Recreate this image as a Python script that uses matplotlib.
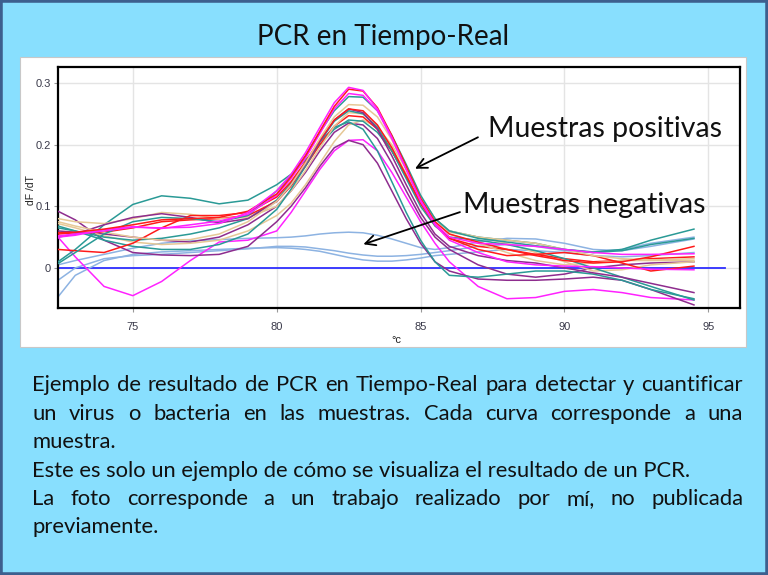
import numpy as np
import matplotlib
matplotlib.use('Agg')
import matplotlib.pyplot as plt
from matplotlib.patches import Rectangle

# temperature grid shared by all melt curves
temps = [72.4, 73, 74, 75, 76, 77, 78, 79, 80, 80.5, 81, 81.5, 82, 82.5, 83, 83.5,
         84, 84.5, 85, 85.5, 86, 87, 88, 89, 90, 91, 92, 93, 94.5]

# positive samples (dF/dT)
pos_magenta1 = [0.052, 0.055, 0.060, 0.066, 0.065, 0.066, 0.072, 0.090, 0.125, 0.152, 0.187, 0.228, 0.268, 0.293, 0.288, 0.258, 0.212, 0.160, 0.110, 0.072, 0.050, 0.040, 0.038, 0.035, 0.030, 0.025, 0.022, 0.022, 0.023]
pos_red1 = [0.057, 0.058, 0.063, 0.070, 0.078, 0.080, 0.082, 0.092, 0.120, 0.148, 0.182, 0.222, 0.262, 0.290, 0.287, 0.260, 0.215, 0.165, 0.113, 0.075, 0.055, 0.042, 0.030, 0.020, 0.012, 0.008, 0.010, 0.018, 0.035]
pos_magenta2 = [0.050, 0.053, 0.062, 0.067, 0.064, 0.070, 0.076, 0.087, 0.118, 0.145, 0.178, 0.218, 0.258, 0.283, 0.280, 0.255, 0.210, 0.160, 0.108, 0.070, 0.045, 0.025, 0.010, 0.005, 0.003, 0.002, 0.000, -0.002, -0.003]
pos_teal1 = [0.007, 0.025, 0.055, 0.075, 0.082, 0.080, 0.075, 0.085, 0.125, 0.150, 0.182, 0.220, 0.255, 0.278, 0.277, 0.255, 0.215, 0.168, 0.118, 0.080, 0.060, 0.048, 0.042, 0.036, 0.030, 0.026, 0.030, 0.045, 0.063]
pos_tan1 = [0.075, 0.068, 0.058, 0.050, 0.045, 0.046, 0.055, 0.075, 0.108, 0.135, 0.170, 0.210, 0.245, 0.265, 0.264, 0.245, 0.208, 0.162, 0.115, 0.080, 0.060, 0.050, 0.045, 0.040, 0.030, 0.020, 0.015, 0.013, 0.015]
pos_red2 = [0.030, 0.028, 0.025, 0.040, 0.065, 0.085, 0.085, 0.090, 0.115, 0.140, 0.172, 0.208, 0.240, 0.258, 0.255, 0.232, 0.195, 0.150, 0.105, 0.070, 0.048, 0.030, 0.020, 0.022, 0.025, 0.020, 0.008, -0.005, 0.003]
pos_purple1 = [0.050, 0.055, 0.070, 0.082, 0.088, 0.082, 0.073, 0.080, 0.108, 0.135, 0.168, 0.205, 0.240, 0.258, 0.252, 0.225, 0.182, 0.135, 0.090, 0.055, 0.035, 0.020, 0.012, 0.008, 0.000, -0.008, -0.015, -0.025, -0.040]
pos_teal2 = [0.068, 0.060, 0.045, 0.035, 0.030, 0.030, 0.038, 0.055, 0.095, 0.128, 0.165, 0.205, 0.238, 0.255, 0.250, 0.228, 0.190, 0.145, 0.100, 0.068, 0.050, 0.045, 0.038, 0.028, 0.015, 0.000, -0.015, -0.030, -0.052]
pos_tan2 = [0.080, 0.075, 0.072, 0.080, 0.090, 0.087, 0.080, 0.082, 0.100, 0.125, 0.158, 0.195, 0.230, 0.252, 0.250, 0.230, 0.195, 0.153, 0.110, 0.075, 0.055, 0.040, 0.025, 0.012, 0.005, 0.008, 0.012, 0.012, 0.012]
pos_red3 = [0.055, 0.057, 0.058, 0.065, 0.075, 0.078, 0.080, 0.085, 0.108, 0.133, 0.165, 0.200, 0.230, 0.247, 0.245, 0.225, 0.190, 0.148, 0.105, 0.070, 0.048, 0.035, 0.030, 0.022, 0.015, 0.010, 0.012, 0.015, 0.018]
pos_teal3 = [0.010, 0.030, 0.070, 0.103, 0.117, 0.113, 0.104, 0.110, 0.135, 0.152, 0.175, 0.200, 0.225, 0.240, 0.238, 0.220, 0.190, 0.150, 0.110, 0.080, 0.060, 0.050, 0.045, 0.040, 0.030, 0.025, 0.028, 0.038, 0.048]
pos_teal4 = [0.065, 0.060, 0.050, 0.045, 0.048, 0.055, 0.065, 0.080, 0.110, 0.138, 0.170, 0.205, 0.228, 0.237, 0.225, 0.190, 0.140, 0.090, 0.045, 0.010, -0.012, -0.015, -0.010, -0.005, -0.005, -0.010, -0.020, -0.035, -0.050]
pos_tan3 = [0.072, 0.065, 0.052, 0.042, 0.038, 0.040, 0.045, 0.060, 0.085, 0.105, 0.135, 0.170, 0.205, 0.232, 0.240, 0.228, 0.200, 0.160, 0.115, 0.080, 0.058, 0.050, 0.040, 0.025, 0.010, -0.005, -0.003, 0.005, 0.010]
pos_purple2 = [0.060, 0.058, 0.055, 0.050, 0.045, 0.042, 0.050, 0.070, 0.100, 0.125, 0.155, 0.190, 0.220, 0.235, 0.232, 0.210, 0.170, 0.125, 0.082, 0.050, 0.030, 0.005, -0.010, -0.015, -0.010, 0.000, 0.005, 0.008, 0.010]
pos_purple3 = [0.092, 0.078, 0.045, 0.025, 0.021, 0.020, 0.022, 0.035, 0.075, 0.100, 0.130, 0.165, 0.195, 0.207, 0.200, 0.170, 0.125, 0.080, 0.040, 0.010, -0.005, -0.018, -0.020, -0.020, -0.018, -0.015, -0.020, -0.035, -0.060]
pos_magenta3 = [0.050, 0.018, -0.030, -0.045, -0.022, 0.012, 0.042, 0.045, 0.060, 0.090, 0.125, 0.160, 0.190, 0.207, 0.208, 0.190, 0.155, 0.115, 0.075, 0.040, 0.010, -0.030, -0.050, -0.048, -0.038, -0.035, -0.040, -0.048, -0.052]

# negative samples
neg_1 = [0.005, 0.012, 0.022, 0.032, 0.040, 0.044, 0.046, 0.048, 0.049, 0.050, 0.052, 0.055, 0.057, 0.058, 0.057, 0.053, 0.047, 0.040, 0.033, 0.030, 0.033, 0.042, 0.048, 0.047, 0.040, 0.030, 0.028, 0.035, 0.047]
neg_2 = [-0.047, -0.012, 0.012, 0.022, 0.026, 0.028, 0.030, 0.032, 0.033, 0.032, 0.030, 0.027, 0.022, 0.017, 0.013, 0.011, 0.011, 0.013, 0.016, 0.020, 0.022, 0.026, 0.030, 0.028, 0.025, 0.020, 0.018, 0.020, 0.025]
neg_3 = [-0.020, 0.000, 0.015, 0.020, 0.022, 0.025, 0.028, 0.031, 0.035, 0.035, 0.034, 0.031, 0.028, 0.024, 0.021, 0.019, 0.019, 0.020, 0.022, 0.025, 0.028, 0.035, 0.038, 0.035, 0.028, 0.025, 0.030, 0.040, 0.050]

RED, MAG, TEAL, PURP, TAN, LBLUE = '#FF1A1A', '#FF22FF', '#2A9A96', '#8E2C8E', '#E6C896', '#8DB3E2'

negatives = [(neg_1, LBLUE), (neg_2, LBLUE), (neg_3, LBLUE)]
positives = [(pos_magenta3, MAG), (pos_purple3, PURP), (pos_purple2, PURP), (pos_tan3, TAN),
             (pos_teal4, TEAL), (pos_teal3, TEAL), (pos_red3, RED), (pos_tan2, TAN),
             (pos_teal2, TEAL), (pos_purple1, PURP), (pos_red2, RED), (pos_tan1, TAN),
             (pos_teal1, TEAL), (pos_magenta2, MAG), (pos_red1, RED), (pos_magenta1, MAG)]

xticks = [75, 80, 85, 90, 95]
yticks = [0, 0.1, 0.2, 0.3]
ytick_labels = ['0', '0.1', '0.2', '0.3']

title = 'PCR en Tiempo-Real'
body = [
    ('Ejemplo de resultado de PCR en Tiempo-Real para detectar y cuantificar', True),
    ('un virus o bacteria en las muestras. Cada curva corresponde a una', True),
    ('muestra.', False),
    ('Este es solo un ejemplo de cómo se visualiza el resultado de un PCR.', False),
    ('La foto corresponde a un trabajo realizado por mí, no publicada', True),
    ('previamente.', False),
]

W, H = 768, 575
plt.rcParams['font.family'] = ['Lato', 'DejaVu Sans']

fig = plt.figure(figsize=(W / 100, H / 100), dpi=100)
fig.patch.set_facecolor('#88DFFE')


def fx(x):
    return x / W


def fy(y):
    return 1 - y / H


# outer frame and white chart panel
fig.patches.append(Rectangle((0, 0), 1, 1, transform=fig.transFigure, fill=False,
                             edgecolor='#3D5F8E', lw=4, zorder=5))
fig.patches.append(Rectangle((fx(20), fy(347)), fx(726), 290 / H, transform=fig.transFigure,
                             facecolor='white', edgecolor='#C8C8C8', lw=0.8, zorder=-1))

fig.text(fx(383), fy(45), title, ha='center', va='baseline', fontsize=20, color='#111111')

ax = fig.add_axes([fx(58), fy(308), fx(682), 241 / H], zorder=2)
ax.set_facecolor('white')
ax.set_xlim(72.4, 96.1)
ax.set_ylim(-0.065, 0.326)
ax.set_xticks(xticks)
ax.set_yticks(yticks)
ax.set_yticklabels(ytick_labels)
ax.grid(True, color='#E4E4E4', lw=1)
ax.set_axisbelow(True)
for s in ax.spines.values():
    s.set_linewidth(1.6)
    s.set_color('black')
ax.tick_params(length=3, width=0.8, color='#999999', labelsize=8, labelcolor='#3A3A4A')
ax.tick_params(axis='x', pad=7)
ax.tick_params(axis='y', pad=2)
for lab in ax.get_xticklabels() + ax.get_yticklabels():
    lab.set_family('Liberation Sans')

ax.axhline(0, xmin=0, xmax=0.978, color='#2F2FFF', lw=1.3, zorder=1)
for vals, c in negatives:
    ax.plot(temps, vals, color=c, lw=1.1, zorder=2)
for vals, c in positives:
    ax.plot(temps, vals, color=c, lw=1.1, zorder=3)

fig.text(fx(31), fy(190), 'dF /dT', rotation=90, ha='center', va='center', fontsize=7.5,
         family='Liberation Sans', color='#222222', zorder=3)
fig.text(fx(396), fy(340), '°c', ha='center', va='center', fontsize=8,
         family='Liberation Sans', color='#222222', zorder=3)

# callouts
ax.annotate('', xy=(84.72, 0.159), xytext=(87.08, 0.214),
            arrowprops=dict(arrowstyle='->', color='black', lw=1.3, mutation_scale=18), zorder=5)
ax.annotate('', xy=(82.92, 0.037), xytext=(86.46, 0.092),
            arrowprops=dict(arrowstyle='->', color='black', lw=1.3, mutation_scale=18), zorder=5)
fig.text(fx(488), fy(137), 'Muestras positivas', ha='left', va='baseline', fontsize=20.5,
         color='#111111', zorder=4)
fig.text(fx(463), fy(213), 'Muestras negativas', ha='left', va='baseline', fontsize=20.5,
         color='#111111', zorder=4)

# body text, justified like the slide (one text per word on justified lines)
x0, x1 = 32, 743
fs = 15.8
baselines = [391, 420, 448, 477, 505, 533]
renderer = fig.canvas.get_renderer()
for (line, just), yb in zip(body, baselines):
    if not just:
        fig.text(fx(x0), fy(yb), line, ha='left', va='baseline', fontsize=fs, color='#111111')
        continue
    words = line.split()
    ts = [fig.text(0, fy(yb), w, ha='left', va='baseline', fontsize=fs, color='#111111') for w in words]
    widths = [t.get_window_extent(renderer).width for t in ts]
    gap = (x1 - x0 - sum(widths)) / (len(words) - 1)
    x = x0
    for t, w in zip(ts, widths):
        t.set_x(fx(x))
        x += w + gap

fig.savefig('out.png', dpi=100, facecolor=fig.get_facecolor())
